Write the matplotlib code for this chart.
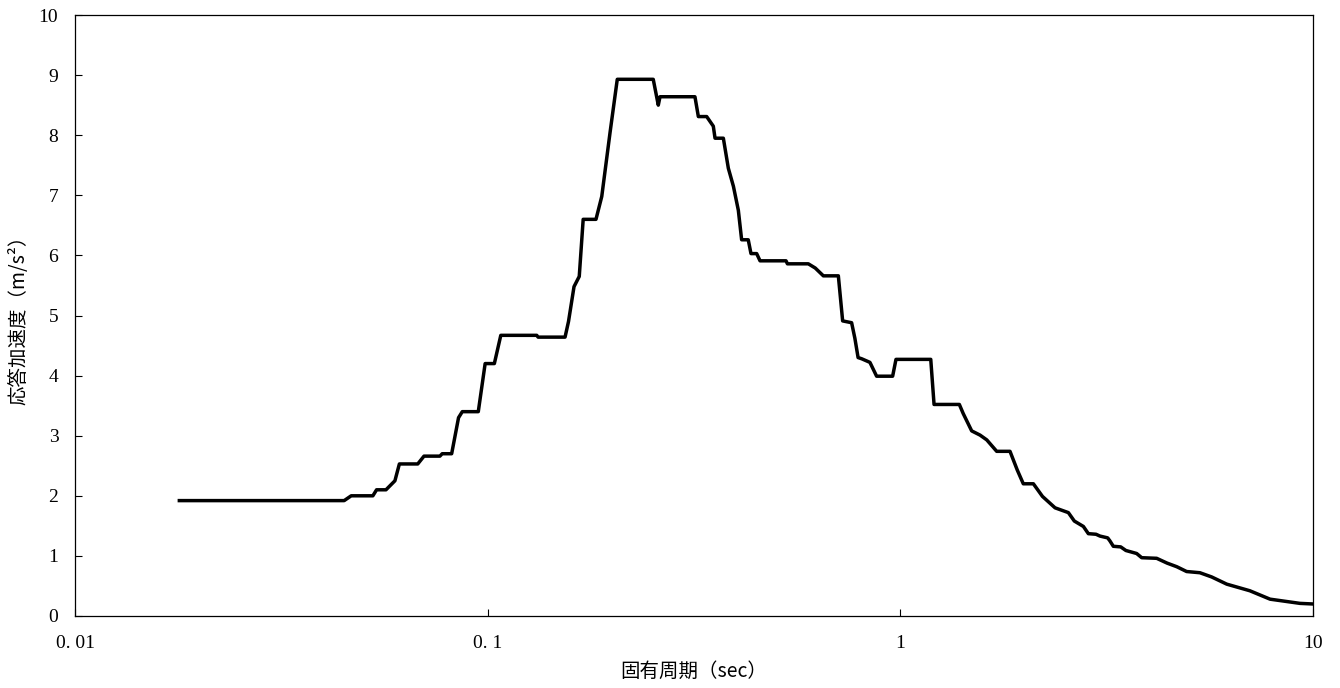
import numpy as np
import matplotlib.pyplot as plt
from matplotlib.ticker import FixedLocator, NullLocator

# 固有周期 (sec) と 応答加速度 (m/s2)
period = [0.0179, 0.0449, 0.0467, 0.0527, 0.0538, 0.0567, 0.0596, 0.0611, 0.0677,
          0.0701, 0.0766, 0.0776, 0.0818, 0.0850, 0.0868, 0.0949, 0.0986, 0.1038,
          0.1076, 0.1315, 0.1325, 0.154, 0.157, 0.1619, 0.1667, 0.1704, 0.183,
          0.189, 0.198, 0.2061, 0.2519, 0.2591, 0.2616, 0.3179, 0.324, 0.3394,
          0.3522, 0.3556, 0.3725, 0.383, 0.394, 0.405, 0.4125, 0.428, 0.4346,
          0.4486, 0.4571, 0.5284, 0.5326, 0.5984, 0.622, 0.6508, 0.7076, 0.7248,
          0.762, 0.776, 0.790, 0.806, 0.844, 0.876, 0.958, 0.976, 1.185, 1.207,
          1.390, 1.42, 1.489, 1.56, 1.62, 1.712, 1.844, 1.92, 1.986, 2.101, 2.21,
          2.371, 2.554, 2.64, 2.777, 2.855, 2.98, 3.046, 3.18, 3.22, 3.282, 3.42,
          3.52, 3.738, 3.845, 4.18, 4.43, 4.676, 4.94, 5.32, 5.68, 6.18, 7.03,
          7.87, 9.30, 10.0]
accel = [1.92, 1.92, 2.00, 2.00, 2.10, 2.10, 2.25, 2.53, 2.53,
         2.66, 2.66, 2.70, 2.70, 3.30, 3.40, 3.40, 4.20, 4.20,
         4.67, 4.67, 4.64, 4.64, 4.90, 5.48, 5.65, 6.60, 6.60,
         6.98, 8.05, 8.93, 8.93, 8.50, 8.64, 8.64, 8.31, 8.31,
         8.15, 7.95, 7.95, 7.45, 7.15, 6.75, 6.26, 6.26, 6.03,
         6.03, 5.91, 5.91, 5.86, 5.86, 5.79, 5.66, 5.66, 4.91,
         4.88, 4.62, 4.30, 4.28, 4.22, 3.99, 3.99, 4.27, 4.27, 3.52,
         3.52, 3.37, 3.08, 3.01, 2.93, 2.74, 2.74, 2.43, 2.20, 2.20, 1.99,
         1.80, 1.72, 1.58, 1.49, 1.37, 1.36, 1.33, 1.30, 1.25, 1.16, 1.15,
         1.09, 1.04, 0.97, 0.96, 0.88, 0.82, 0.74, 0.72, 0.65, 0.53, 0.42,
         0.28, 0.21, 0.20]

xticks = [0.01, 0.1, 1, 10]
xticklabels = ['0. 01', '0. 1', '1', '10']
yticks = list(range(0, 11))

fig = plt.figure(figsize=(13.4, 6.88), dpi=100)
ax = fig.add_axes([75 / 1340, 72 / 688, 1238 / 1340, 601 / 688])

ax.plot(period, accel, color='black', lw=2.5, solid_joinstyle='round')

ax.set_xscale('log')
ax.set_xlim(0.01, 10)
ax.set_ylim(0, 10)
ax.xaxis.set_major_locator(FixedLocator(xticks))
ax.xaxis.set_minor_locator(NullLocator())
ax.set_xticklabels(xticklabels, fontfamily='Liberation Serif', fontsize=14)
ax.set_yticks(yticks)
ax.set_yticklabels([str(v) for v in yticks], fontfamily='Liberation Serif', fontsize=14)
ax.tick_params(direction='in', length=5, width=0.8, colors='black')
ax.tick_params(axis='x', pad=14)
ax.tick_params(axis='y', pad=12)

for s in ax.spines.values():
    s.set_linewidth(0.9)
    s.set_color('black')

ax.set_xlabel('固有周期（sec）', fontfamily=['Noto Sans CJK JP', 'DejaVu Sans'],
              fontsize=14, labelpad=6)
ax.set_ylabel('応答加速度（m/s²）', fontfamily=['Noto Sans CJK JP', 'DejaVu Sans'],
              fontsize=14, labelpad=7)

fig.savefig('out.png', dpi=100)
